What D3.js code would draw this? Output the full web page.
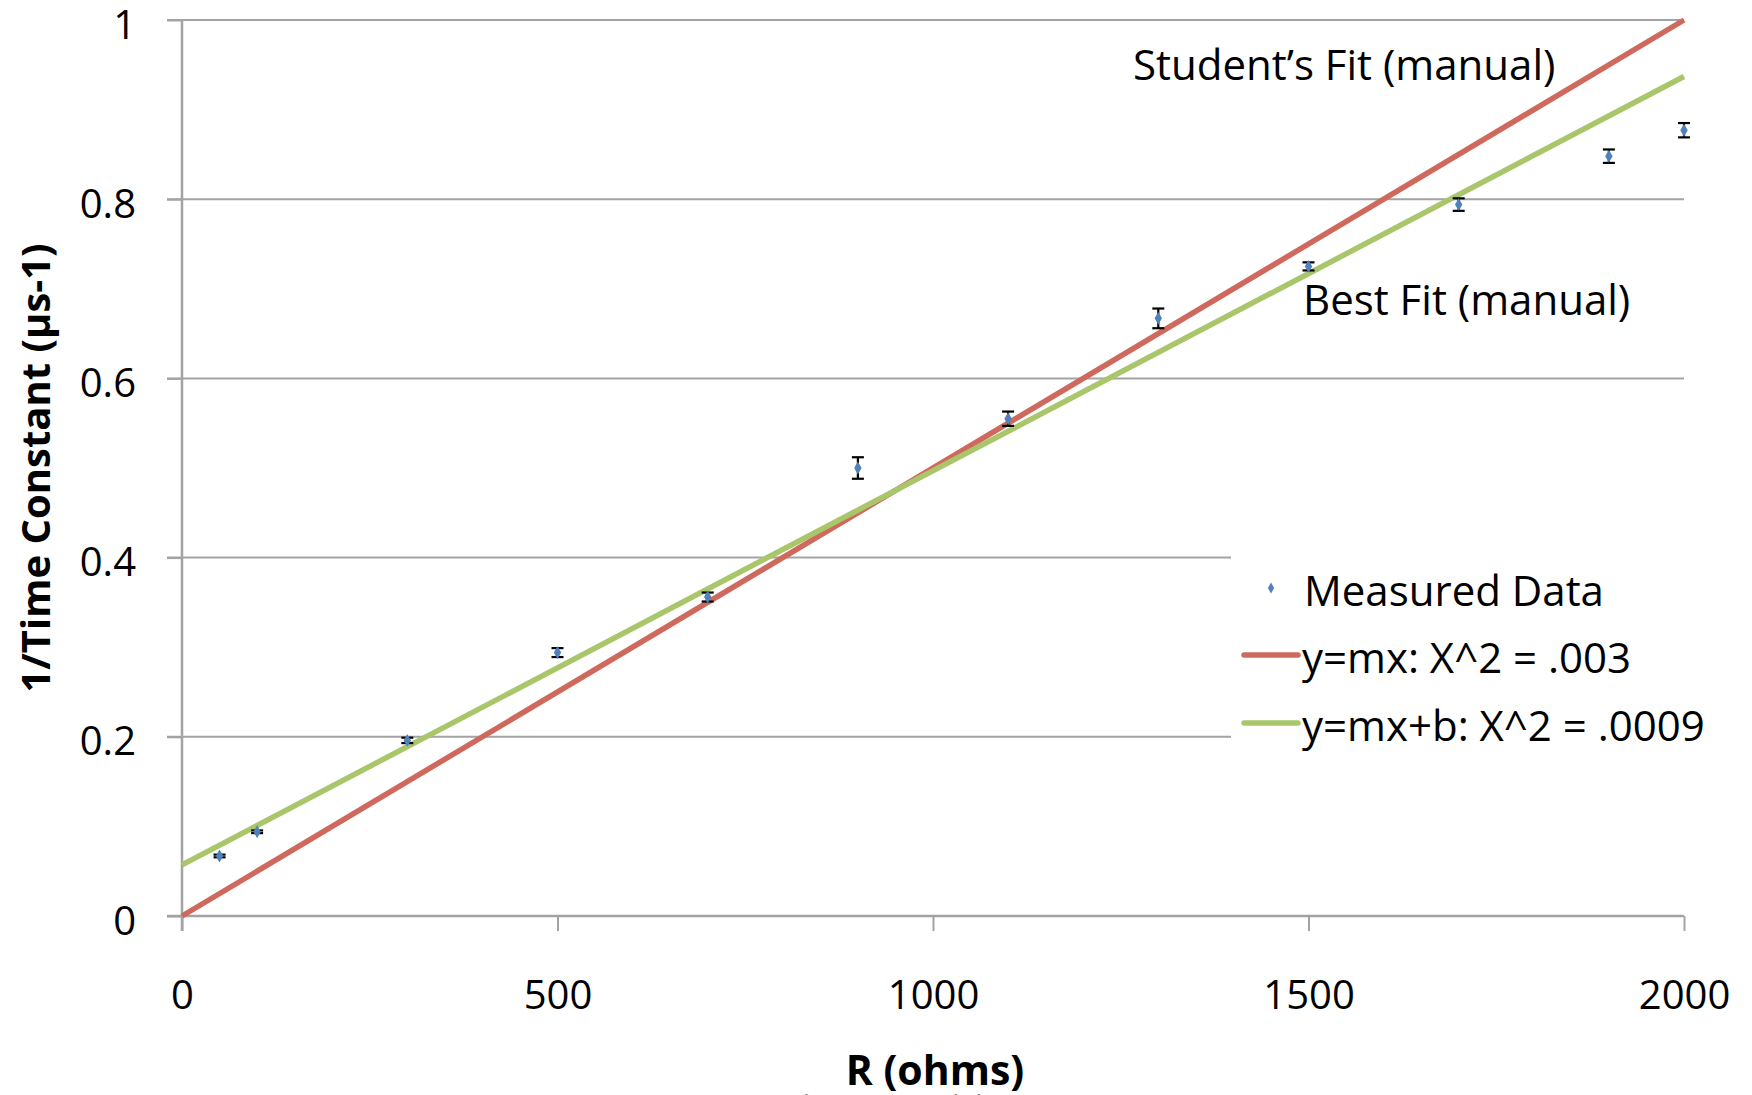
<!DOCTYPE html>
<html>
<head>
<meta charset="utf-8">
<script src="https://cdn.jsdelivr.net/npm/d3@7"></script>
<style>
  html, body { margin: 0; padding: 0; background: #fff; overflow: hidden; }
  svg text { font-family: "Open Sans", "Noto Sans", sans-serif; fill: #000; }
</style>
</head>
<body>
<svg id="chart" width="1752" height="1095"></svg>
<script>
// ---- data ----
const resistance = [50, 100, 300, 500, 700, 900, 1100, 1300, 1500, 1700, 1900, 2000];
const invTimeConstant = [0.067, 0.094, 0.196, 0.294, 0.356, 0.500, 0.555, 0.667, 0.725, 0.794, 0.848, 0.877];
const errorBars = [0.0015, 0.0015, 0.003, 0.005, 0.005, 0.012, 0.008, 0.011, 0.0045, 0.007, 0.0075, 0.008];

const fitNames = ["y=mx: X^2 = .003", "y=mx+b: X^2 = .0009"];
const fitSlopes = [0.0005, 0.00044];
const fitIntercepts = [0, 0.057];
const fitColors = ["#D0695D", "#A9C66A"];

const xTicks = [0, 500, 1000, 1500, 2000];
const yTicks = [0, 0.2, 0.4, 0.6, 0.8, 1];
const yTickLabels = ["0", "0.2", "0.4", "0.6", "0.8", "1"];

const xTitle = "R (ohms)";
const yTitle = "1/Time Constant (μs-1)";
const seriesName = "Measured Data";
const annotations = ["Student’s Fit (manual)", "Best Fit (manual)"];
const footer = ["Evaluating models", "9"];

// ---- layout ----
const svg = d3.select("#chart");
const x = d3.scaleLinear().domain([0, 2000]).range([182, 1684]);
const y = d3.scaleLinear().domain([0, 1]).range([916, 20]);
const gridColor = "#A3A3A3";
const tickFont = 40;
const labelFont = 42;

// gridlines
svg.append("g").selectAll("line").data(yTicks.filter(d => d > 0)).join("line")
  .attr("x1", x(0) - 15).attr("x2", x(2000))
  .attr("y1", d => y(d)).attr("y2", d => y(d))
  .attr("stroke", gridColor).attr("stroke-width", 2);

// y axis
const yAxis = d3.axisLeft(y).tickValues(yTicks).tickSize(15).tickFormat((d, i) => yTickLabels[i]);
const gy = svg.append("g").attr("transform", `translate(${x(0)},0)`).call(yAxis);
gy.select(".domain").attr("stroke", gridColor).attr("stroke-width", 2.5)
  .attr("d", `M0,${y(1)}V${y(0) + 15}`);
gy.selectAll(".tick line").attr("stroke", gridColor).attr("stroke-width", 2);
gy.selectAll(".tick text").attr("x", -46).attr("dy", null).attr("y", 18)
  .style("font-size", tickFont + "px").style("font-family", '"Open Sans"').attr("fill", "#000");

// x axis
const xAxis = d3.axisBottom(x).tickValues(xTicks).tickSize(15).tickFormat(d3.format("d"));
const gx = svg.append("g").attr("transform", `translate(0,${y(0)})`).call(xAxis);
gx.select(".domain").attr("stroke", gridColor).attr("stroke-width", 2.5)
  .attr("d", `M${x(0) - 15},0H${x(2000)}`);
gx.selectAll(".tick line").attr("stroke", gridColor).attr("stroke-width", 2);
gx.selectAll(".tick text").attr("y", 93).attr("dy", null)
  .style("font-size", tickFont + "px").style("font-family", '"Open Sans"').attr("fill", "#000");

// legend background (covers lower gridlines)
svg.append("rect").attr("x", 1231).attr("y", 545).attr("width", 521).attr("height", 200).attr("fill", "#fff");

// fit lines
fitNames.forEach((name, i) => {
  svg.append("line")
    .attr("x1", x(0)).attr("y1", y(fitIntercepts[i]))
    .attr("x2", x(2000)).attr("y2", y(fitIntercepts[i] + fitSlopes[i] * 2000))
    .attr("stroke", fitColors[i]).attr("stroke-width", 5.5);
});

// error bars
const eb = svg.append("g").attr("stroke", "#000").attr("stroke-width", 2.2);
resistance.forEach((r, i) => {
  const cx = x(r), top = y(invTimeConstant[i] + errorBars[i]), bot = y(invTimeConstant[i] - errorBars[i]);
  eb.append("line").attr("x1", cx).attr("x2", cx).attr("y1", top).attr("y2", bot);
  eb.append("line").attr("x1", cx - 6).attr("x2", cx + 6).attr("y1", top).attr("y2", top);
  eb.append("line").attr("x1", cx - 6).attr("x2", cx + 6).attr("y1", bot).attr("y2", bot);
});

// markers
const diamond = d3.symbol().type(d3.symbolDiamond).size(48);
svg.append("g").selectAll("path").data(resistance).join("path")
  .attr("d", diamond)
  .attr("transform", (d, i) => `translate(${x(d)},${y(invTimeConstant[i])})`)
  .attr("fill", "#4F81BD");

// annotations
svg.append("text").attr("x", 1133).attr("y", 80).style("font-size", labelFont + "px").text(annotations[0]);
svg.append("text").attr("x", 1303).attr("y", 315).style("font-size", labelFont + "px").text(annotations[1]);

// legend
const lg = svg.append("g");
lg.append("path").attr("d", d3.symbol().type(d3.symbolDiamond).size(34))
  .attr("transform", "translate(1271,588)").attr("fill", "#4F81BD");
lg.append("text").attr("x", 1304).attr("y", 606).style("font-size", labelFont + "px").text(seriesName);
fitNames.forEach((name, i) => {
  const ly = 655 + i * 68;
  lg.append("line").attr("x1", 1244).attr("x2", 1298).attr("y1", ly).attr("y2", ly)
    .attr("stroke", fitColors[i]).attr("stroke-width", 5.5).attr("stroke-linecap", "round");
  lg.append("text").attr("x", 1302).attr("y", ly + 18).style("font-size", labelFont + "px").text(name);
});

// axis titles
svg.append("text").attr("transform", `translate(50,468) rotate(-90)`)
  .attr("text-anchor", "middle").style("font-size", "40px").style("font-weight", "bold")
  .text(yTitle);

// footer (slide text, mostly cut off at the bottom edge)
svg.append("text").attr("x", 758).attr("y", 1115).style("font-size", "28px")
  .style("fill", "#8c8c8c").text(footer[0]);
svg.append("text").attr("x", 1695).attr("y", 1115).style("font-size", "28px")
  .style("fill", "#8c8c8c").text(footer[1]);

svg.append("text").attr("x", 935).attr("y", 1085).attr("text-anchor", "middle")
  .style("font-size", "41px").style("font-weight", "bold").text(xTitle);
</script>
</body>
</html>
